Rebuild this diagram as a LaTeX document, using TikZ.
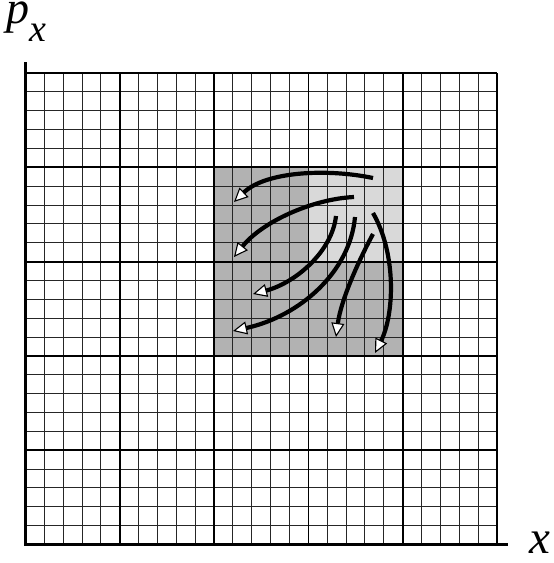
\documentclass[tikz,border=0pt]{standalone}
\usepackage{fontspec}
\setmainfont{Liberation Serif}
\usetikzlibrary{arrows.meta}
\tikzset{
  minorline/.style={line width=1pt, black!85},
  majorline/.style={line width=1.8pt, black},
  axisline/.style={line width=3.6pt, black},
  flowarrow/.style={line width=4.2pt, black,
    -{Triangle[length=14pt,width=13pt,line width=1.1pt,fill=white]}},
}
\begin{document}
\begin{tikzpicture}[x=1pt,y=-1pt]
\useasboundingbox (0,0) rectangle (554,563);
\def\xa{25.5}\def\ya{73}\def\s{18.86}
% shading
\fill[black!30] (214,168) rectangle (402.5,357);
\fill[black!15] (308.5,168) rectangle (402.5,262.5);
% minor grid
\foreach \i in {1,...,24}{
  \draw[minorline] ({\xa+\i*\s},\ya) -- ({\xa+\i*\s},544.5);
  \draw[minorline] (\xa,{\ya+\i*\s}) -- (497,{\ya+\i*\s});
}
% major grid
\foreach \i in {1,...,5}{
  \draw[majorline] ({\xa+5*\i*\s},\ya) -- ({\xa+5*\i*\s},544.5);
  \draw[majorline] (\xa,{\ya+5*(\i-1)*\s}) -- (497,{\ya+5*(\i-1)*\s});
}
% axes
\coordinate (ytop) at (\xa,62);
\coordinate (orig) at (\xa,544.5);
\coordinate (xend) at (508,544.5);
\draw[axisline] (ytop) -- (orig) -- (xend);
% labels
\node[anchor=base west, inner sep=0pt, text height=19pt, text depth=19pt] (py) at (6,23)
  {\fontsize{46}{46}\selectfont\itshape p\raisebox{-18pt}{\fontsize{38}{38}\selectfont x}};
\node[anchor=base west, inner sep=0pt] (xl) at (529,553)
  {\fontsize{47}{47}\selectfont\itshape x};
% arrows
\coordinate (s1) at (373,178); \coordinate (e1) at (234,202);
\coordinate (s2) at (354,197); \coordinate (e2) at (234,257);
\coordinate (s3) at (336,216); \coordinate (e3) at (253,294);
\coordinate (s4) at (355,217); \coordinate (e4) at (233,331);
\coordinate (s5) at (373,234); \coordinate (e5) at (336,337);
\coordinate (s6) at (373,213); \coordinate (e6) at (375,353);
\draw[flowarrow] (s1) .. controls (325,168) and (265,172) .. (e1);
\draw[flowarrow] (s2) .. controls (312,199) and (262,222) .. (e2);
\draw[flowarrow] (s3) .. controls (332,252) and (295,283) .. (e3);
\draw[flowarrow] (s4) .. controls (350,272) and (300,316) .. (e4);
\draw[flowarrow] (s5) .. controls (358,262) and (341,300) .. (e5);
\draw[flowarrow] (s6) .. controls (397,255) and (394,315) .. (e6);
\end{tikzpicture}
\end{document}
